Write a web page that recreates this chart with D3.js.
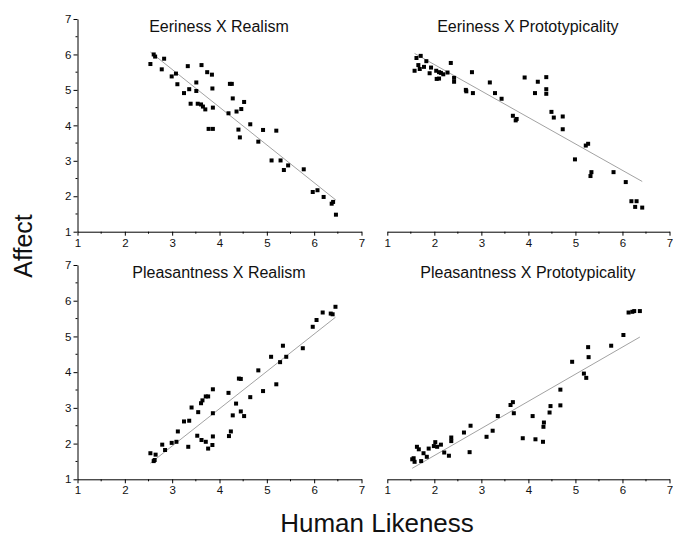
<!DOCTYPE html>
<html>
<head>
<meta charset="utf-8">
<script src="https://cdn.jsdelivr.net/npm/d3@7"></script>
<style>
body{margin:0;background:#fff;}
svg{display:block;font-family:"Liberation Sans",Arial,sans-serif;}
</style>
</head>
<body>
<svg width="673" height="538"></svg>
<script>
/* data: [human likeness, affect] */
const eerieRealism=[
[2.54,5.73],[2.61,6.0],[2.64,5.94],[2.83,5.88],[2.78,5.58],[2.99,5.38],[3.08,5.46],[3.11,5.16],
[3.33,5.67],[3.62,5.70],[3.74,5.50],[3.84,5.43],[3.51,5.21],[3.25,4.91],[3.36,5.02],[3.51,4.97],
[3.85,5.04],[4.22,5.17],[4.26,5.17],[3.39,4.61],[3.54,4.61],[3.61,4.59],[3.65,4.53],[3.70,4.45],
[3.86,4.50],[4.28,4.76],[4.52,4.66],[4.36,4.39],[4.46,4.46],[4.19,4.34],[3.77,3.90],[3.86,3.90],
[4.40,3.88],[4.43,3.66],[4.65,4.03],[4.92,3.87],[5.20,3.85],[4.82,3.54],[5.10,3.01],[5.29,3.01],
[5.36,2.74],[5.45,2.87],[5.78,2.76],[5.97,2.12],[6.07,2.17],[6.20,1.98],[6.37,1.79],[6.40,1.84],
[6.46,1.48]
];
const eerieProto=[
[1.58,5.54],[1.62,5.90],[1.66,5.70],[1.71,5.96],[1.69,5.59],[1.78,5.65],[1.83,5.81],[1.90,5.47],
[1.93,5.63],[2.04,5.54],[2.05,5.31],[2.10,5.32],[2.10,5.50],[2.14,5.48],[2.19,5.44],[2.28,5.49],
[2.35,5.76],[2.42,5.34],[2.42,5.23],[2.67,5.00],[2.68,4.96],[2.80,5.50],[2.82,4.91],[3.18,5.21],
[3.29,4.91],[3.43,4.75],[3.67,4.27],[3.73,4.14],[3.75,4.18],[3.92,5.35],[4.14,4.91],[4.20,5.23],
[4.38,5.36],[4.38,5.02],[4.38,4.89],[4.49,4.38],[4.54,4.22],[4.73,4.25],[4.73,3.89],[4.99,3.04],
[5.22,3.43],[5.27,3.48],[5.32,2.57],[5.34,2.68],[5.81,2.68],[6.07,2.40],[6.19,1.86],[6.30,1.86],
[6.27,1.70],[6.42,1.68]
];
const pleasRealism=[
[2.54,1.73],[2.65,1.69],[2.61,1.51],[2.63,1.54],[2.79,1.97],[2.85,1.82],[2.99,2.02],[3.09,2.05],
[3.12,2.34],[3.34,1.91],[3.25,2.62],[3.36,2.64],[3.41,3.01],[3.53,2.22],[3.55,2.88],[3.62,2.10],
[3.61,3.13],[3.64,3.21],[3.71,3.32],[3.76,3.32],[3.71,2.05],[3.76,1.86],[3.85,1.96],[3.86,2.20],
[3.86,2.85],[3.86,3.52],[4.19,3.42],[4.20,2.21],[4.24,2.34],[4.28,2.79],[4.35,3.12],[4.41,3.82],
[4.45,3.81],[4.45,2.90],[4.52,2.77],[4.65,3.30],[4.82,4.05],[4.92,3.47],[5.09,4.43],[5.20,3.66],
[5.28,4.28],[5.34,4.74],[5.41,4.43],[5.76,4.67],[5.97,5.27],[6.05,5.46],[6.18,5.67],[6.35,5.64],
[6.39,5.62],[6.45,5.83]
];
const pleasProto=[
[1.53,1.56],[1.56,1.59],[1.58,1.49],[1.63,1.91],[1.67,1.84],[1.72,1.51],[1.77,1.73],[1.84,1.63],
[1.88,1.86],[1.99,1.93],[2.02,2.04],[2.06,1.91],[2.14,1.97],[2.21,1.75],[2.31,1.66],[2.36,2.17],
[2.36,2.07],[2.63,2.31],[2.75,1.76],[2.77,2.50],[3.11,2.19],[3.24,2.36],[3.35,2.77],[3.62,3.08],
[3.67,3.16],[3.69,2.85],[3.88,2.15],[4.09,2.77],[4.15,2.12],[4.31,2.05],[4.32,2.47],[4.33,2.59],
[4.45,2.87],[4.47,3.05],[4.68,3.51],[4.68,3.07],[4.93,4.29],[5.18,3.96],[5.23,3.84],[5.27,4.70],
[5.28,4.42],[5.76,4.74],[6.02,5.04],[6.13,5.67],[6.21,5.69],[6.25,5.71],[6.37,5.71]
];
const titles=['Eeriness X Realism','Eeriness X Prototypicality','Pleasantness X Realism','Pleasantness X Prototypicality'];
const tickValues=[1,2,3,4,5,6,7];
const minorTicks=[1.5,2.5,3.5,4.5,5.5,6.5];

const svg=d3.select('svg');

/* panel boxes in pixels */
const cols=[[77.5,361.5],[387.3,669.5]];
const rows=[[231.7,19],[479.3,265]];

const panels=[
  {data:eerieRealism,col:0,row:0,title:titles[0]},
  {data:eerieProto,col:1,row:0,title:titles[1]},
  {data:pleasRealism,col:0,row:1,title:titles[2]},
  {data:pleasProto,col:1,row:1,title:titles[3]}
];

/* least squares line */
function fit(pts){
  const mx=d3.mean(pts,d=>d[0]), my=d3.mean(pts,d=>d[1]);
  const b=d3.sum(pts,d=>(d[0]-mx)*(d[1]-my))/d3.sum(pts,d=>(d[0]-mx)*(d[0]-mx));
  const a=my-b*mx;
  const ext=d3.extent(pts,d=>d[0]);
  return ext.map(x=>[x,a+b*x]);
}

panels.forEach(p=>{
  const x=d3.scaleLinear().domain([1,7]).range(cols[p.col]);
  const y=d3.scaleLinear().domain([1,7]).range(rows[p.row]);
  const g=svg.append('g');

  /* x axis */
  g.append('g')
    .attr('transform',`translate(0,${y(1)})`)
    .call(d3.axisBottom(x).tickValues(tickValues).tickFormat(d3.format('d'))
      .tickSize(4).tickPadding(3).tickSizeOuter(0));
  g.append('g')
    .attr('transform',`translate(0,${y(1)})`)
    .selectAll('line').data(minorTicks).join('line')
    .attr('x1',d=>x(d)).attr('x2',d=>x(d))
    .attr('y1',0).attr('y2',2)
    .attr('stroke','#000');

  /* y axis only on the left */
  if(p.col===0){
    g.append('g')
      .attr('transform',`translate(${x(1)},0)`)
      .call(d3.axisLeft(y).tickValues(tickValues).tickFormat(d3.format('d'))
        .tickSize(4).tickPadding(2).tickSizeOuter(0));
    g.append('g')
      .attr('transform',`translate(${x(1)},0)`)
      .selectAll('line').data(minorTicks).join('line')
      .attr('x1',0).attr('x2',-2)
      .attr('y1',d=>y(d)).attr('y2',d=>y(d))
      .attr('stroke','#000');
  }
  g.selectAll('.tick text')
    .attr('font-size',11.5)
    .attr('font-family','"Liberation Sans",Arial,sans-serif')
    .attr('fill','#111');
  g.selectAll('.domain').attr('stroke','#000');

  /* trend line */
  g.append('path')
    .attr('d',d3.line().x(d=>x(d[0])).y(d=>y(d[1]))(fit(p.data)))
    .attr('stroke','#8a8a8a')
    .attr('stroke-width',0.8)
    .attr('fill','none');

  /* points */
  g.selectAll('rect.pt').data(p.data).join('rect')
    .attr('class','pt')
    .attr('x',d=>x(d[0])-2)
    .attr('y',d=>y(d[1])-2)
    .attr('width',4)
    .attr('height',4)
    .attr('fill','#000');

  g.append('text')
    .attr('x',(cols[p.col][0]+cols[p.col][1])/2 - 0.5)
    .attr('y',rows[p.row][1]+12.5)
    .attr('text-anchor','middle')
    .attr('font-size',16)
    .attr('fill','#111')
    .text(p.title);
});

svg.append('text')
  .attr('transform','translate(32,246) rotate(-90)')
  .attr('text-anchor','middle')
  .attr('font-size',25)
  .attr('fill','#111')
  .text('Affect');

svg.append('text')
  .attr('x',377)
  .attr('y',532)
  .attr('text-anchor','middle')
  .attr('font-size',26)
  .attr('fill','#111')
  .text('Human Likeness');
</script>
</body>
</html>
